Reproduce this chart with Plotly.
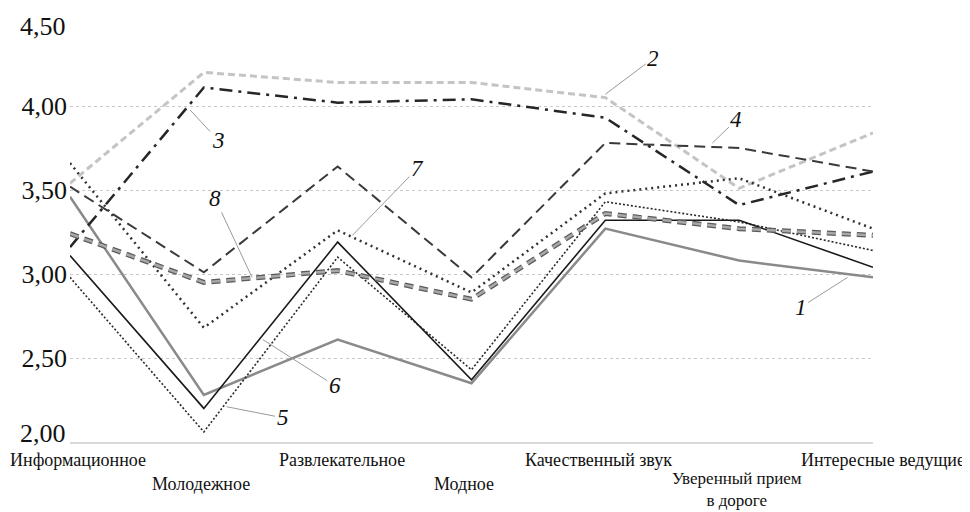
import plotly.graph_objects as go

categories = ["Информационное", "Молодежное", "Развлекательное", "Модное",
              "Качественный звук", "Уверенный прием<br>в дороге", "Интересные ведущие"]

s1 = [3.46, 2.28, 2.61, 2.35, 3.27, 3.08, 2.98]
s2 = [3.54, 4.20, 4.14, 4.14, 4.05, 3.51, 3.84]
s3 = [3.16, 4.11, 4.02, 4.04, 3.93, 3.41, 3.61]
s4 = [3.52, 3.01, 3.64, 2.98, 3.78, 3.75, 3.61]
s5 = [2.98, 2.06, 3.10, 2.43, 3.43, 3.31, 3.14]
s6 = [3.11, 2.20, 3.19, 2.37, 3.32, 3.32, 3.04]
s7 = [3.66, 2.68, 3.26, 2.89, 3.48, 3.57, 3.27]
s8 = [3.24, 2.95, 3.02, 2.85, 3.36, 3.27, 3.23]

y_ticks = [2.0, 2.5, 3.0, 3.5, 4.0, 4.5]
y_tick_text = ["2,00", "2,50", "3,00", "3,50", "4,00", "4,50"]

xi = list(range(len(categories)))

fig = go.Figure()

def add(y, color, width, dash):
    fig.add_trace(go.Scatter(x=xi, y=y, mode="lines",
                             line=dict(color=color, width=width, dash=dash),
                             showlegend=False, hoverinfo="skip"))

add(s1, "#8a8a8a", 2.5, "solid")
add(s2, "#c4c4c4", 3, "7px,4px")
add(s3, "#262626", 2.5, "13px,6px,3px,6px")
add(s4, "#3a3a3a", 2, "11px,6px")
add(s5, "#2a2a2a", 1.6, "2px,2px")
add(s6, "#1a1a1a", 1.6, "solid")
add(s7, "#333333", 2.5, "2px,4px")
add(s8, "#5a5a5a", 5, "9px,6px")
add(s8, "#a8a8a8", 2.5, "9px,6px")

font_serif = "Liberation Serif, Times New Roman, serif"
tick_font = dict(family=font_serif, size=26, color="#111")

# y tick labels: inner ones on the axis, the end ones nudged inside like the original
inner = [(v, t) for v, t in zip(y_ticks, y_tick_text) if v not in (y_ticks[0], y_ticks[-1])]
for v, t, dy in [(y_ticks[0], y_tick_text[0], 9), (y_ticks[-1], y_tick_text[-1], -4)]:
    fig.add_annotation(x=0, y=v, xref="paper", yref="y", text=t, showarrow=False,
                       xanchor="right", yanchor="middle", xshift=-2, yshift=dy,
                       font=tick_font)

# category labels (staggered)
label_shift = [8, -3, 4, -8, -7, -2, 10]
for i, c in enumerate(categories):
    if "<br>" in c:
        fig.add_annotation(x=i, y=-0.164, xref="x", yref="paper", text=c,
                           showarrow=False, xshift=label_shift[i], yanchor="bottom",
                           borderpad=0,
                           font=dict(family=font_serif, size=17, color="#111"))
    else:
        top = -0.0167 if i % 2 == 0 else -0.074
        fig.add_annotation(x=i, y=top, xref="x", yref="paper", text=c,
                           showarrow=False, xshift=label_shift[i], yanchor="top",
                           borderpad=0,
                           font=dict(family=font_serif, size=18, color="#111"))

# series number labels with leader lines
callouts = [
    ("1", 5.81, 2.98, -47, 30),
    ("2", 4.0, 4.07, 48, -36),
    ("3", 0.897, 3.976, 28, 30),
    ("4", 4.80, 3.78, 24, -23),
    ("5", 1.17, 2.21, 56, 11),
    ("6", 1.44, 2.61, 72, 46),
    ("7", 2.11, 3.23, 65, -67),
    ("8", 1.36, 2.98, -37, -79),
]
for t, x, y, ax, ay in callouts:
    fig.add_annotation(x=x, y=y, xref="x", yref="y", text="<i>" + t + "</i>",
                       showarrow=True, arrowhead=0, arrowwidth=1, arrowcolor="#9a9a9a",
                       ax=ax, ay=ay, standoff=0,
                       font=dict(family=font_serif, size=23, color="#111"))

fig.update_layout(
    width=962, height=504,
    margin=dict(l=62, r=97, t=14, b=70),
    paper_bgcolor="white", plot_bgcolor="white",
    font=dict(family=font_serif, color="#111"),
)
fig.update_xaxes(range=[0, 6], showgrid=False, zeroline=False, showticklabels=False,
                 showline=True, linecolor="#d9d9d9", linewidth=1.5, ticks="",
                 automargin=False)
fig.update_yaxes(range=[2.0, 4.5], tickvals=y_ticks,
                 ticktext=[dict(inner).get(v, "") for v in y_ticks],
                 showgrid=True, gridcolor="#c8c8c8", griddash="dot", gridwidth=1,
                 zeroline=False, showline=False, ticks="", ticklabelstandoff=2,
                 automargin=False, tickfont=tick_font)

fig.write_html("out.html")
